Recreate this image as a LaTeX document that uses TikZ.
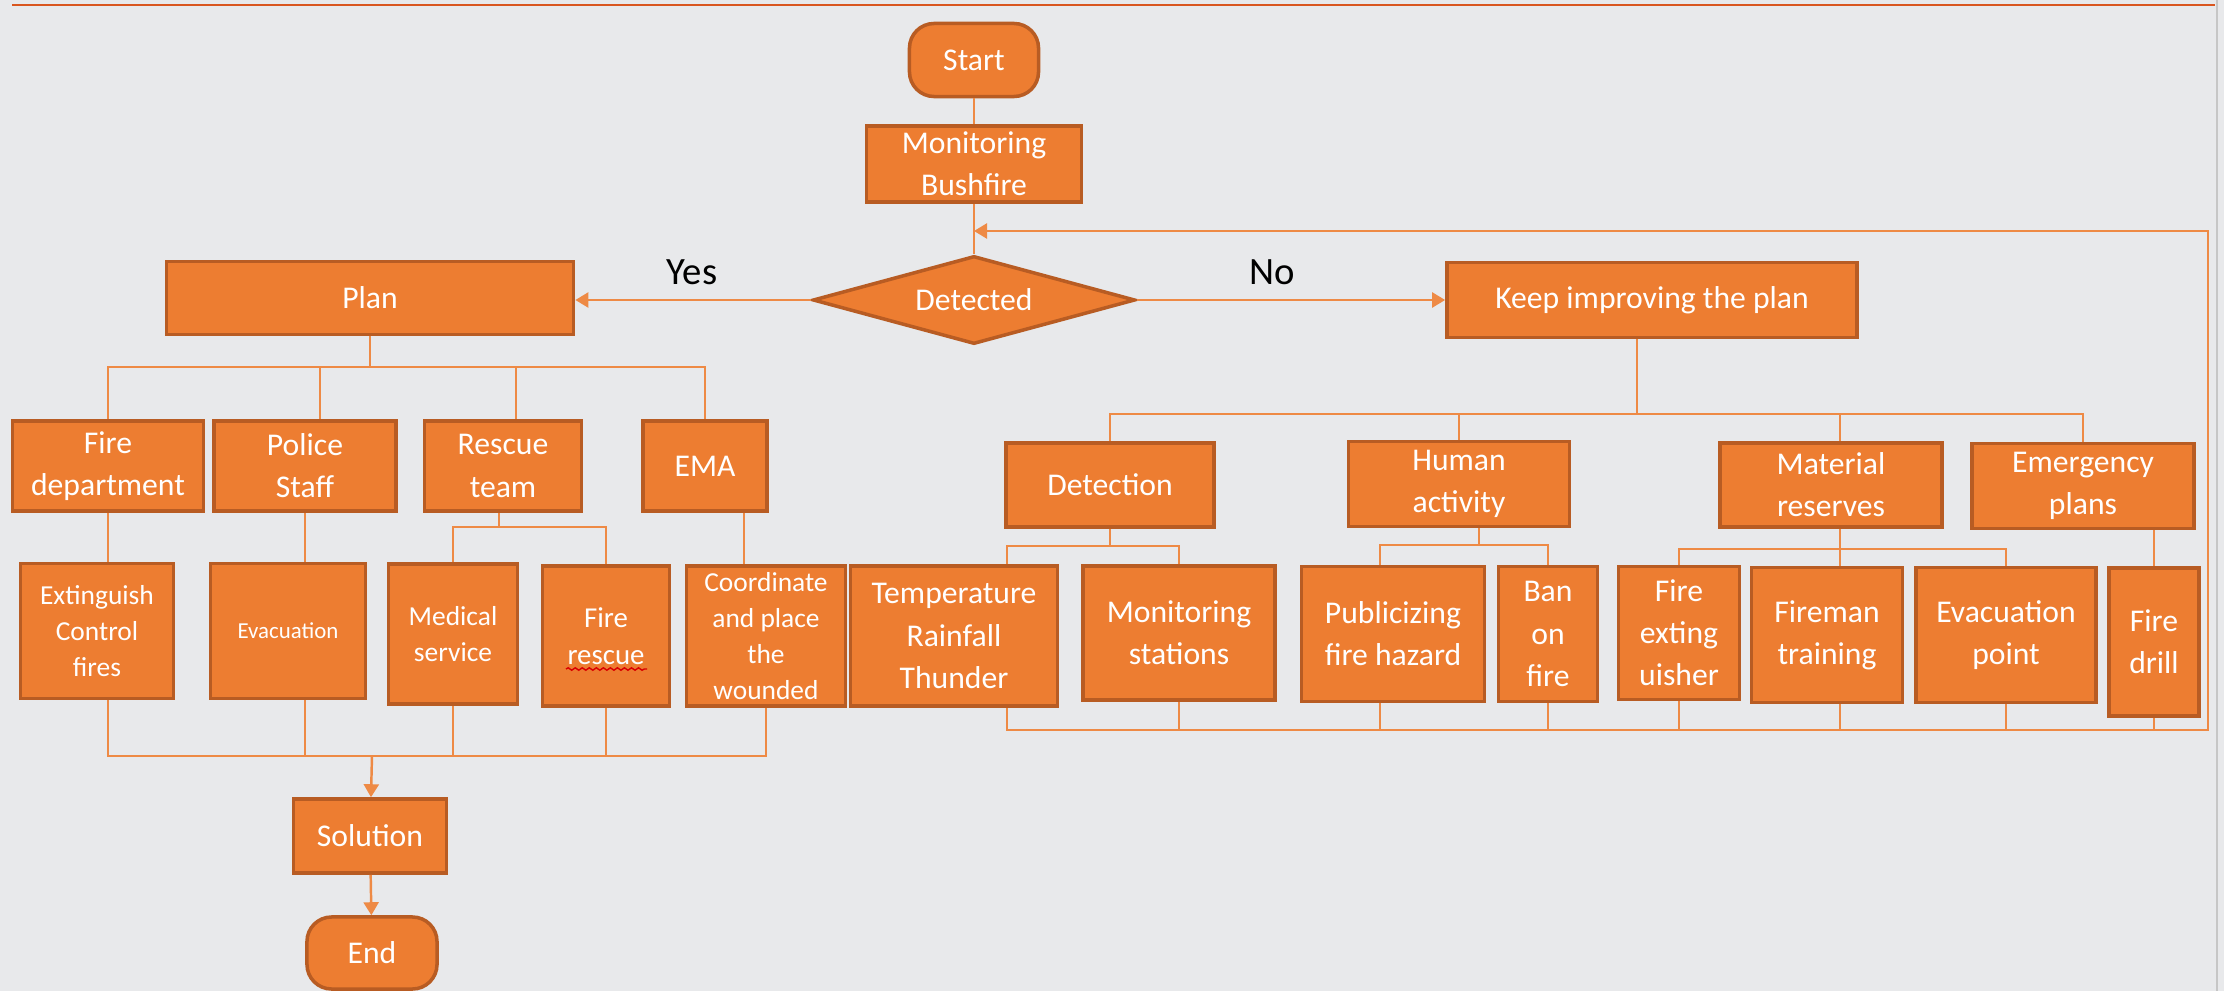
\documentclass[tikz,border=0pt]{standalone}
\usepackage{fontspec}
\setmainfont{Carlito}
\usetikzlibrary{shapes.geometric,arrows.meta,decorations.pathmorphing}

\definecolor{boxfill}{HTML}{ED7D31}
\definecolor{boxedge}{HTML}{B85C23}
\definecolor{linkcol}{HTML}{EE8A45}
\definecolor{sheet}{HTML}{E8E9EB}
\definecolor{topline}{HTML}{D9561F}

\tikzset{
  box/.style={draw=boxedge, fill=boxfill, line width=1pt, text=white, align=center,
    inner sep=0pt, font=\fontsize{9}{12}\selectfont},
  wh/.style 2 args={minimum width=#1cm, minimum height=#2cm},
  term/.style={box, rounded corners=7pt},
  decision/.style={box, diamond, aspect=3.6},
  smalltext/.style={font=\fontsize{7.8}{10.3}\selectfont},
  link/.style={draw=linkcol, line width=0.7pt},
  arrowlink/.style={link, -{Triangle[length=0.13cm,width=0.15cm]}},
}

\begin{document}
\begin{tikzpicture}[x=0.01cm, y=-0.01cm]
      \fill[sheet] (0,0) rectangle (2224,991);
      \useasboundingbox (0,0) rectangle (2224,991);
      \draw[topline, line width=0.7pt] (12,5) -- (2215,5);
      \draw[gray!45, line width=0.8pt] (2217,0) -- (2217,991);

      % main line
      \node[term, wh={1.29}{0.73}] (start) at (974,60) {Start};
      \node[box, wh={2.15}{0.76}] (monitor) at (974,164) {Monitoring\\Bushfire};
      \node[decision, wh={3.22}{0.88}] (detected) at (974,300) {Detected};
      \node[box, wh={4.07}{0.73}] (plan) at (370,298) {Plan};
      \node[box, wh={4.10}{0.75}] (kip) at (1652,300) {Keep improving the plan};
      \node[font=\fontsize{11}{13}\selectfont] (yes) at (692,272) {Yes};
      \node[font=\fontsize{11}{13}\selectfont] (no) at (1272,272) {No};

      % plan side
      \node[box, wh={1.91}{0.90}] (firedept) at (108,466) {Fire\\department};
      \node[box, wh={1.82}{0.90}] (police) at (305,466) {Police\\Staff};
      \node[box, wh={1.57}{0.90}] (rescue) at (503,466) {Rescue\\team};
      \node[box, wh={1.24}{0.90}] (ema) at (705,466) {EMA};

      \node[box, smalltext, wh={1.53}{1.35}] (extinguish) at (97,631) {Extinguish\\Control\\fires};
      \node[box, font=\fontsize{6.5}{8}\selectfont, wh={1.55}{1.35}] (evac) at (288,631) {Evacuation};
      \node[box, smalltext, wh={1.29}{1.40}] (medical) at (453,634) {Medical\\service};
      \node[box, font=\fontsize{8.2}{10.5}\selectfont, wh={1.27}{1.40}] (firerescue) at (606,636) {Fire\\rescue};
      \node[box, smalltext, wh={1.59}{1.40}] (coord) at (766,636) {Coordinate\\and place\\the\\wounded};

      \node[box, wh={1.53}{0.74}] (solution) at (370,836) {Solution};
      \node[term, wh={1.30}{0.72}] (end) at (372,953) {End};

      % improving side
      \node[box, wh={2.08}{0.84}] (detection) at (1110,485) {Detection};
      \node[box, wh={2.21}{0.85}] (human) at (1459,484) {Human\\activity};
      \node[box, wh={2.22}{0.84}] (material) at (1831,485) {Material\\reserves};
      \node[box, wh={2.22}{0.85}] (emerg) at (2083,486) {Emergency\\plans};

      \node[box, wh={2.07}{1.40}] (temp) at (954,636) {Temperature\\Rainfall\\Thunder};
      \node[box, wh={1.92}{1.34}] (stations) at (1179,633) {Monitoring\\stations};
      \node[box, wh={1.83}{1.35}] (publicize) at (1393,634) {Publicizing\\fire hazard};
      \node[box, wh={0.99}{1.35}] (ban) at (1548,634) {Ban\\on\\fire};
      \node[box, wh={1.21}{1.33}] (exting) at (1679,633) {Fire\\exting\\uisher};
      \node[box, wh={1.51}{1.35}] (fireman) at (1827,635) {Fireman\\training};
      \node[box, wh={1.80}{1.35}] (evacpoint) at (2006,635) {Evacuation\\point};
      \node[box, wh={0.90}{1.48}] (drill) at (2154,642) {Fire\\drill};

      % spell-check mark
      \draw[red!85!black, line width=0.4pt, decorate, decoration={snake, amplitude=0.35pt, segment length=2pt}]
        (566,669) -- (647,669);

      \coordinate (planbus) at (370,367);
      \coordinate (policedrop) at (320,0);
      \coordinate (rescuedrop) at (516,0);
      \coordinate (rescuebus) at (499,527);
      \coordinate (emadrop) at (744,0);
      \coordinate (joinbus) at (372,756);
      \coordinate (kipbus) at (1637,414);
      \coordinate (tempdrop) at (1007,546);
      \coordinate (humanbus) at (1479,545);
      \coordinate (pubdrop) at (1380,0);
      \coordinate (matbus) at (1840,549);
      \coordinate (loopbot) at (2208,730);
      \coordinate (looptop) at (2208,231);

      \draw[link] (start) -- (monitor);
      \draw[link] (monitor) -- (detected);
      \draw[arrowlink] (detected.west) -- (detected.west -| plan.east);
      \draw[arrowlink] (detected.east) -- (detected.east -| kip.west);

      \draw[link] (plan.south) -- (planbus);
      \draw[link] (firedept.north) |- (ema.north |- planbus) -- (ema.north);
      \draw[link] (policedrop |- police.north) -- (policedrop |- planbus);
      \draw[link] (rescuedrop |- rescue.north) -- (rescuedrop |- planbus);

      \draw[link] (firedept.south) -- (firedept.south |- extinguish.north);
      \draw[link] (police.south) -- (police.south |- evac.north);
      \draw[link] (rescuebus |- rescue.south) -- (rescuebus);
      \draw[link] (medical.north) |- (firerescue.north |- rescuebus) -- (firerescue.north);
      \draw[link] (emadrop |- ema.south) -- (emadrop |- coord.north);

      \draw[link] (firedept.south |- extinguish.south) |- (joinbus) -| (coord.south);
      \draw[link] (police.south |- evac.south) -- (police.south |- joinbus);
      \draw[link] (medical.south) -- (medical.south |- joinbus);
      \draw[link] (firerescue.south) -- (firerescue.south |- joinbus);
      \draw[arrowlink] (joinbus) -- (solution);
      \draw[arrowlink] (solution) -- (end);

      \draw[link] (kipbus |- kip.south) -- (kipbus);
      \draw[link] (detection.north) |- (emerg.north |- kipbus) -- (emerg.north);
      \draw[link] (human.north) -- (human.north |- kipbus);
      \draw[link] (matbus |- material.north) -- (matbus |- kipbus);

      \draw[link] (detection.south) -- (detection.south |- tempdrop);
      \draw[link] (tempdrop |- temp.north) |- (stations.north |- tempdrop) -- (stations.north);
      \draw[link] (humanbus |- human.south) -- (humanbus);
      \draw[link] (pubdrop |- publicize.north) |- (ban.north |- humanbus) -- (ban.north);
      \draw[link] (matbus |- material.south) -- (matbus |- fireman.north);
      \draw[link] (exting.north) |- (evacpoint.north |- matbus) -- (evacpoint.north);
      \draw[link] (drill.north) -- (drill.north |- emerg.south);

      % back to monitoring
      \draw[arrowlink] (tempdrop |- temp.south) |- (loopbot) -- (looptop) -- (looptop -| monitor.south);
      \draw[link] (stations.south) -- (stations.south |- loopbot);
      \draw[link] (pubdrop |- publicize.south) -- (pubdrop |- loopbot);
      \draw[link] (ban.south) -- (ban.south |- loopbot);
      \draw[link] (exting.south) -- (exting.south |- loopbot);
      \draw[link] (matbus |- fireman.south) -- (matbus |- loopbot);
      \draw[link] (evacpoint.south) -- (evacpoint.south |- loopbot);
      \draw[link] (drill.south) -- (drill.south |- loopbot);
    \end{tikzpicture}
\end{document}
